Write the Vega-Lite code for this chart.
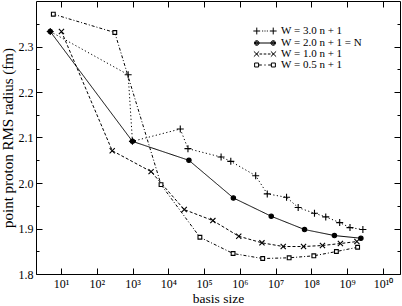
{
  "$schema": "https://vega.github.io/schema/vega-lite/v6.json",
  "width": 364,
  "height": 273,
  "autosize": {"type": "none"},
  "padding": {"left": 36, "top": 1, "right": 2, "bottom": 32},
  "background": "white",
  "config": {
    "view": {"stroke": "black", "strokeWidth": 1},
    "axis": {
      "labelFont": "Liberation Serif",
      "labelFontSize": 12,
      "labelColor": "black",
      "titleFont": "Liberation Serif",
      "titleFontSize": 15,
      "titleFontWeight": "normal",
      "titleColor": "black",
      "tickColor": "black",
      "tickWidth": 1,
      "grid": false,
      "domain": false
    }
  },
  "data": {
    "values": [
      {"W": "W = 3.0 n + 1", "x": 5, "y": 2.333},
      {"W": "W = 3.0 n + 1", "x": 754, "y": 2.238},
      {"W": "W = 3.0 n + 1", "x": 994, "y": 2.0915},
      {"W": "W = 3.0 n + 1", "x": 21600, "y": 2.1187},
      {"W": "W = 3.0 n + 1", "x": 35400, "y": 2.0755},
      {"W": "W = 3.0 n + 1", "x": 299000, "y": 2.057},
      {"W": "W = 3.0 n + 1", "x": 558000, "y": 2.0476},
      {"W": "W = 3.0 n + 1", "x": 2770000, "y": 2.016},
      {"W": "W = 3.0 n + 1", "x": 5840000, "y": 1.976},
      {"W": "W = 3.0 n + 1", "x": 20200000, "y": 1.9686},
      {"W": "W = 3.0 n + 1", "x": 42700000, "y": 1.946},
      {"W": "W = 3.0 n + 1", "x": 122000000, "y": 1.9335},
      {"W": "W = 3.0 n + 1", "x": 252000000, "y": 1.9255},
      {"W": "W = 3.0 n + 1", "x": 618000000, "y": 1.913},
      {"W": "W = 3.0 n + 1", "x": 1200000000, "y": 1.902},
      {"W": "W = 3.0 n + 1", "x": 2750000000, "y": 1.8977},
      {"W": "W = 2.0 n + 1  = N", "x": 5, "y": 2.333},
      {"W": "W = 2.0 n + 1  = N", "x": 994, "y": 2.0915},
      {"W": "W = 2.0 n + 1  = N", "x": 37700, "y": 2.0498},
      {"W": "W = 2.0 n + 1  = N", "x": 659000, "y": 1.9672},
      {"W": "W = 2.0 n + 1  = N", "x": 7540000, "y": 1.9269},
      {"W": "W = 2.0 n + 1  = N", "x": 64300000, "y": 1.8977},
      {"W": "W = 2.0 n + 1  = N", "x": 440000000, "y": 1.8845},
      {"W": "W = 2.0 n + 1  = N", "x": 2420000000, "y": 1.8786},
      {"W": "W = 1.0 n + 1", "x": 10.3, "y": 2.333},
      {"W": "W = 1.0 n + 1", "x": 270, "y": 2.071},
      {"W": "W = 1.0 n + 1", "x": 3300, "y": 2.025},
      {"W": "W = 1.0 n + 1", "x": 27900, "y": 1.9416},
      {"W": "W = 1.0 n + 1", "x": 176000, "y": 1.9174},
      {"W": "W = 1.0 n + 1", "x": 931000, "y": 1.883},
      {"W": "W = 1.0 n + 1", "x": 4150000, "y": 1.8685},
      {"W": "W = 1.0 n + 1", "x": 16300000, "y": 1.8604},
      {"W": "W = 1.0 n + 1", "x": 60300000, "y": 1.8604},
      {"W": "W = 1.0 n + 1", "x": 204000000, "y": 1.8626},
      {"W": "W = 1.0 n + 1", "x": 647000000, "y": 1.867},
      {"W": "W = 1.0 n + 1", "x": 1870000000, "y": 1.8713},
      {"W": "W = 0.5 n + 1", "x": 6.1, "y": 2.371},
      {"W": "W = 0.5 n + 1", "x": 319, "y": 2.3307},
      {"W": "W = 0.5 n + 1", "x": 6260, "y": 1.9964},
      {"W": "W = 0.5 n + 1", "x": 76400, "y": 1.8808},
      {"W": "W = 0.5 n + 1", "x": 647000, "y": 1.845},
      {"W": "W = 0.5 n + 1", "x": 4350000, "y": 1.834},
      {"W": "W = 0.5 n + 1", "x": 23900000, "y": 1.8356},
      {"W": "W = 0.5 n + 1", "x": 117000000, "y": 1.84},
      {"W": "W = 0.5 n + 1", "x": 500000000, "y": 1.8494},
      {"W": "W = 0.5 n + 1", "x": 1960000000, "y": 1.8588}
    ]
  },
  "layer": [
    {
      "mark": {"type": "line", "color": "black", "strokeWidth": 1},
      "encoding": {
        "x": {"field": "x", "type": "quantitative", "scale": {"type": "log", "domain": [2, 30000000000], "nice": false},
          "axis": {"orient": "bottom", "values": [10, 100, 1000, 10000, 100000, 1000000, 10000000, 100000000, 1000000000, 10000000000], "ticks": false, "labelPadding": 4, "labelExpr": "'10' + ['⁰','¹','²','³','⁴','⁵','⁶','⁷','⁸','⁹','¹⁰'][round(log(datum.value)/LN10)]", "title": "basis size", "titleFontSize": 13.5, "titlePadding": 2, "labelFlush": false, "labelOverlap": false}},
        "y": {"field": "y", "type": "quantitative", "scale": {"domain": [1.8, 2.4], "nice": false, "zero": false},
          "axis": {"orient": "left", "values": [1.8, 1.9, 2.0, 2.1, 2.2, 2.3], "format": ".1f", "ticks": false, "labelPadding": 3, "title": "point proton RMS radius (fm)", "titlePadding": 3, "labelFlush": false, "labelOverlap": false}},
        "strokeDash": {"field": "W", "type": "nominal",
          "scale": {"domain": ["W = 3.0 n + 1", "W = 2.0 n + 1  = N", "W = 1.0 n + 1", "W = 0.5 n + 1"], "range": [[1.2, 2.4], [1, 0], [3, 2], [3, 2, 1, 2]]},
          "legend": null}
      }
    },
    {
      "mark": {"type": "point", "filled": true, "opacity": 1, "stroke": "black", "strokeWidth": 1.1, "size": 49},
      "encoding": {
        "x": {"field": "x", "type": "quantitative",
          "axis": {"orient": "bottom", "values": [10, 100, 1000, 10000, 100000, 1000000, 10000000, 100000000, 1000000000, 10000000000], "labels": false, "tickSize": -6, "title": null}},
        "y": {"field": "y", "type": "quantitative",
          "axis": {"orient": "left", "values": [1.8, 1.9, 2.0, 2.1, 2.2, 2.3], "labels": false, "tickSize": -6, "title": null}},
        "shape": {"field": "W", "type": "nominal",
          "scale": {"domain": ["W = 3.0 n + 1", "W = 2.0 n + 1  = N", "W = 1.0 n + 1", "W = 0.5 n + 1"],
            "range": ["M-1,0H1M0,-1V1", "M0.63,0A0.63,0.63,0,1,1,-0.63,0A0.63,0.63,0,1,1,0.63,0Z", "M-0.74,-0.74L0.74,0.74M-0.74,0.74L0.74,-0.74", "M-0.54,-0.54H0.54V0.54H-0.54Z"]},
          "legend": null},
        "fill": {"field": "W", "type": "nominal",
          "scale": {"domain": ["W = 3.0 n + 1", "W = 2.0 n + 1  = N", "W = 1.0 n + 1", "W = 0.5 n + 1"], "range": ["white", "black", "white", "white"]},
          "legend": null}
      }
    },
    {
      "transform": [{"filter": "datum.y > 10"}],
      "mark": {"type": "point", "filled": false, "color": "black", "opacity": 1, "strokeWidth": 1, "size": 110},
      "encoding": {
        "x": {"field": "x", "type": "quantitative",
          "axis": {"orient": "top", "values": [10, 100, 1000, 10000, 100000, 1000000, 10000000, 100000000, 1000000000, 10000000000], "labels": false, "tickSize": -6, "title": null}},
        "y": {"field": "y", "type": "quantitative",
          "axis": {"orient": "right", "values": [1.8, 1.9, 2.0, 2.1, 2.2, 2.3], "labels": false, "tickSize": -6, "title": null}},
        "shape": {"field": "W", "type": "nominal",
          "scale": {"domain": ["W = 3.0 n + 1", "W = 2.0 n + 1  = N", "W = 1.0 n + 1", "W = 0.5 n + 1"],
            "range": [
              "M-2.22,0H-0.92M-1.57,-0.65V0.65M0.92,0H2.22M1.57,-0.65V0.65M-0.55,0H-0.35M-0.1,0H0.1M0.35,0H0.55",
              "M-1.57,0H1.57M-1.12,0A0.45,0.45,0,1,1,-2.02,0A0.45,0.45,0,1,1,-1.12,0ZM-1.29,0A0.28,0.28,0,1,1,-1.85,0A0.28,0.28,0,1,1,-1.29,0ZM-1.47,0A0.1,0.1,0,1,1,-1.67,0A0.1,0.1,0,1,1,-1.47,0ZM2.02,0A0.45,0.45,0,1,1,1.12,0A0.45,0.45,0,1,1,2.02,0ZM1.85,0A0.28,0.28,0,1,1,1.29,0A0.28,0.28,0,1,1,1.85,0ZM1.67,0A0.1,0.1,0,1,1,1.47,0A0.1,0.1,0,1,1,1.67,0Z",
              "M-2.12,-0.5L-1.12,0.5M-2.12,0.5L-1.12,-0.5M1.12,-0.5L2.12,0.5M1.12,0.5L2.12,-0.5M-1.62,0H-1.35M-1.05,0H-0.55M-0.25,0H0.25M0.55,0H1.05M1.35,0H1.62",
              "M-1.98,-0.38H-1.22V0.38H-1.98ZM1.22,-0.38H1.98V0.38H1.22ZM-1.22,0H-0.6M-0.12,0H0.12M0.6,0H1.22"
            ]},
          "legend": {"orient": "none", "legendX": 223, "legendY": 24, "title": null, "padding": 0, "labelFont": "Liberation Serif", "labelFontSize": 11, "labelColor": "black", "labelOffset": 10, "symbolSize": 110, "symbolStrokeWidth": 1, "symbolStrokeColor": "black", "symbolFillColor": "transparent", "rowPadding": 0, "labelLimit": 0}}
      }
    },
    {
      "transform": [{"filter": "datum.y > 10"}],
      "mark": {"type": "point"},
      "encoding": {
        "x": {"field": "x", "type": "quantitative", "axis": null},
        "y": {"field": "y", "type": "quantitative",
          "axis": {"orient": "left", "values": [1.85, 1.95, 2.05, 2.15, 2.25, 2.35], "labels": false, "tickSize": -3, "title": null}}
      }
    },
    {
      "transform": [{"filter": "datum.y > 10"}],
      "mark": {"type": "point"},
      "encoding": {
        "x": {"field": "x", "type": "quantitative", "axis": null},
        "y": {"field": "y", "type": "quantitative",
          "axis": {"orient": "right", "values": [1.85, 1.95, 2.05, 2.15, 2.25, 2.35], "labels": false, "tickSize": -3, "title": null}}
      }
    }
  ],
  "resolve": {
    "axis": {"x": "independent", "y": "independent"},
    "scale": {"shape": "independent", "fill": "independent"}
  }
}
